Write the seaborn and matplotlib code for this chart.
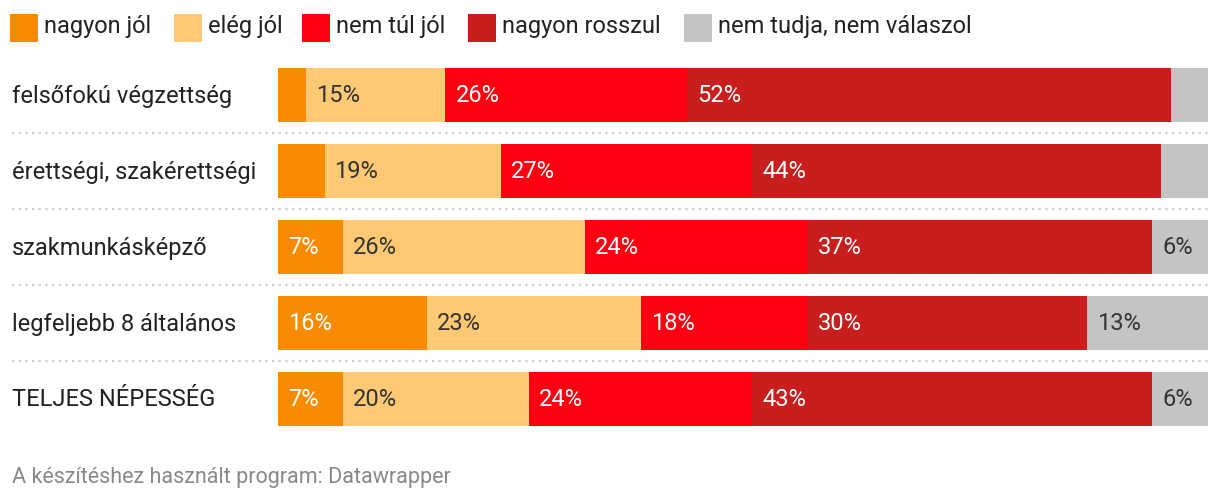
import numpy as np
import pandas as pd
import matplotlib
matplotlib.use("Agg")
import matplotlib.pyplot as plt
import seaborn as sns
from matplotlib.patches import Rectangle
from matplotlib.lines import Line2D

categories = ["felsőfokú végzettség", "érettségi, szakérettségi", "szakmunkásképző",
              "legfeljebb 8 általános", "TELJES NÉPESSÉG"]
series = ["nagyon jól", "elég jól", "nem túl jól", "nagyon rosszul", "nem tudja, nem válaszol"]
nagyon_jol = [3, 5, 7, 16, 7]
eleg_jol = [15, 19, 26, 23, 20]
nem_tul_jol = [26, 27, 24, 18, 24]
nagyon_rosszul = [52, 44, 37, 30, 43]
nem_tudja = [4, 5, 6, 13, 6]
values = [nagyon_jol, eleg_jol, nem_tul_jol, nagyon_rosszul, nem_tudja]
colors = ["#F98B00", "#FDC975", "#FF0011", "#C81E1E", "#C4C4C4"]
text_colors = ["#FFFFFF", "#333333", "#FFFFFF", "#FFFFFF", "#333333"]

sns.set_theme(style="white")
plt.rcParams["font.family"] = ["Roboto", "DejaVu Sans"]

W, H = 1220, 504
fig = plt.figure(figsize=(W / 100, H / 100), dpi=100)
ax = fig.add_axes([278 / W, 1 - 437 / H, (1208 - 278) / W, (437 - 57) / H])

vals = np.array(values, dtype=float)  # series x categories
cum = np.cumsum(vals, axis=0)
total = cum[-1]
frac = cum / total * 100

# draw from the largest cumulative down so each segment overlays the previous
for i in range(len(series) - 1, -1, -1):
    df = pd.DataFrame({"cat": categories, "x": frac[i]})
    sns.barplot(data=df, x="x", y="cat", orient="h", color=colors[i],
                width=54 / 76, ax=ax, saturation=1, edgecolor="none", linewidth=0)

ax.set_xlim(0, 100)
ax.set_ylim(len(categories) - 0.5, -0.5)
ax.axis("off")

# value labels
for i in range(len(series)):
    for j in range(len(categories)):
        v = vals[i][j]
        if v > 5:
            left = frac[i][j] - v / total[j] * 100
            ax.text(left + 10 / 930 * 100, j, f"{int(v)}%", va="center", ha="left",
                    fontsize=17, color=text_colors[i])

# category labels
for j, c in enumerate(categories):
    y = 1 - (96 + 76 * j) / H
    fig.text(12 / W, y, c, ha="left", va="center", fontsize=17, color="#222222")

# dotted separators
for k in range(len(categories) - 1):
    y = 1 - (133 + 76 * k) / H
    fig.add_artist(Line2D([12 / W, 1208 / W], [y, y], transform=fig.transFigure,
                          color="#CCCCCC", linestyle=(0, (1, 2)), linewidth=1.6))

# legend
leg_x = [10, 174, 302, 468, 684]
for x0, lab, col in zip(leg_x, series, colors):
    fig.add_artist(Rectangle((x0 / W, 1 - 42 / H), 28 / W, 28 / H,
                             transform=fig.transFigure, color=col, linewidth=0))
    fig.text((x0 + 34) / W, 1 - 27 / H, lab, ha="left", va="center",
             fontsize=17, color="#222222")

fig.text(12 / W, 1 - 477 / H, "A készítéshez használt program: Datawrapper",
         ha="left", va="center", fontsize=15.5, color="#888888")

fig.savefig("out.png", dpi=100)
